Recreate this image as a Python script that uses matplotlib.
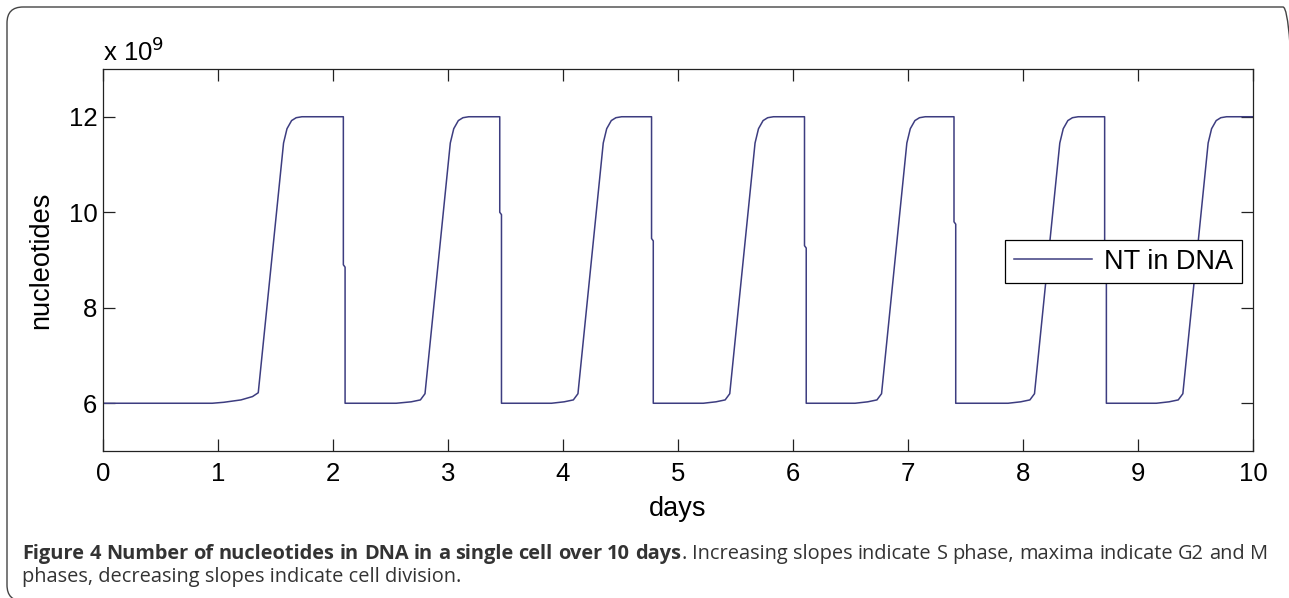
import matplotlib
matplotlib.use('Agg')
import matplotlib.pyplot as plt
from matplotlib.patches import FancyBboxPatch
from matplotlib.transforms import IdentityTransform

# nucleotides in DNA (units of 1e9)
days = [0.0, 0.95, 1.05, 1.20, 1.30, 1.35,
        1.57, 1.60, 1.64, 1.68, 1.73, 2.09, 2.09, 2.105, 2.105,
        2.55, 2.68, 2.76, 2.80,
        3.02, 3.05, 3.09, 3.13, 3.18, 3.45, 3.45, 3.465, 3.465,
        3.90, 4.01, 4.09, 4.13,
        4.35, 4.38, 4.42, 4.46, 4.51, 4.77, 4.77, 4.785, 4.785,
        5.22, 5.33, 5.41, 5.45,
        5.67, 5.70, 5.74, 5.78, 5.83, 6.10, 6.10, 6.115, 6.115,
        6.54, 6.65, 6.73, 6.77,
        6.99, 7.02, 7.06, 7.10, 7.15, 7.40, 7.40, 7.415, 7.415,
        7.87, 7.98, 8.06, 8.10,
        8.32, 8.35, 8.39, 8.43, 8.48, 8.71, 8.71, 8.725, 8.725,
        9.16, 9.27, 9.35, 9.39,
        9.61, 9.64, 9.68, 9.72, 9.77, 10.0]
nt_billions = [6.0, 6.0, 6.02, 6.07, 6.14, 6.22,
               11.45, 11.75, 11.92, 11.98, 12.0, 12.0, 8.9, 8.85, 6.0,
               6.0, 6.03, 6.07, 6.2,
               11.45, 11.75, 11.92, 11.98, 12.0, 12.0, 10.0, 9.95, 6.0,
               6.0, 6.03, 6.07, 6.2,
               11.45, 11.75, 11.92, 11.98, 12.0, 12.0, 9.45, 9.4, 6.0,
               6.0, 6.03, 6.07, 6.2,
               11.45, 11.75, 11.92, 11.98, 12.0, 12.0, 9.3, 9.25, 6.0,
               6.0, 6.03, 6.07, 6.2,
               11.45, 11.75, 11.92, 11.98, 12.0, 12.0, 9.8, 9.75, 6.0,
               6.0, 6.03, 6.07, 6.2,
               11.45, 11.75, 11.92, 11.98, 12.0, 12.0, 9.4, 9.35, 6.0,
               6.0, 6.03, 6.07, 6.2,
               11.45, 11.75, 11.92, 11.98, 12.0, 12.0]

x_ticks = [0, 1, 2, 3, 4, 5, 6, 7, 8, 9, 10]
y_ticks = [6, 8, 10, 12]

caption_bold = "Figure 4 Number of nucleotides in DNA in a single cell over 10 days"
caption_rest = ". Increasing slopes indicate S phase, maxima indicate G2 and M"
caption_line2 = "phases, decreasing slopes indicate cell division."

W, H = 1289, 598
fig = plt.figure(figsize=(W / 100, H / 100), dpi=100)
plt.rcParams['font.family'] = ['Liberation Sans', 'DejaVu Sans']

ax = fig.add_axes([103 / W, 1 - 451 / H, 1150 / W, 382 / H])
ax.plot(days, nt_billions, color='#3d3d80', lw=1.1, label='NT in DNA')
ax.set_xlim(0, 10)
ax.set_ylim(5, 13)
ax.set_xticks(x_ticks)
ax.set_yticks(y_ticks)
ax.tick_params(direction='in', length=8.5, width=0.9, top=True, right=True,
               labelsize=18.5, color='#222222')
ax.tick_params(axis='x', pad=8)
ax.tick_params(axis='y', pad=4)
for s in ax.spines.values():
    s.set_linewidth(0.9)
    s.set_color('#222222')

ax.set_xlabel('days', fontsize=19.5)
ax.xaxis.set_label_coords(0.5, -0.118)
ax.set_ylabel('nucleotides', fontsize=19.5)
ax.yaxis.label.set_va('center')
ax.yaxis.set_label_coords(-0.054, 0.5)

fig.text(103 / W, 1 - 61 / H, 'x 10$^{9}$', fontsize=18.5, ha='left', va='baseline')

leg = ax.legend(loc='center right', bbox_to_anchor=(0.99, 0.496), fontsize=19.5,
                fancybox=False, framealpha=1, edgecolor='black',
                handlelength=2.9, handletextpad=0.45, borderpad=0.3,
                borderaxespad=0)
leg.get_frame().set_linewidth(0.9)

# caption, first line justified from x=22 to x=1268
fig.canvas.draw()
r = fig.canvas.get_renderer()
probe = fig.text(0, 0, caption_bold, fontsize=12, family='Open Sans', fontweight='bold')
cap_size = 12 * 661 / probe.get_window_extent(r).width
probe.remove()
cap_kw = dict(fontsize=cap_size, family='Open Sans', color='#333333')
words = [(w, 'bold') for w in caption_bold.split(' ')]
rest = caption_rest.split(' ')
items = []
for w, wt in words:
    items.append([fig.text(0, 0, w, fontweight=wt, **cap_kw)])
items[-1].append(fig.text(0, 0, rest[0], fontweight='normal', **cap_kw))
for w in rest[1:]:
    items.append([fig.text(0, 0, w, fontweight='normal', **cap_kw)])
widths = []
for grp in items:
    widths.append([t.get_window_extent(r).width for t in grp])
total = sum(sum(g) for g in widths)
gap = (1268 - 22 - total) / (len(items) - 1)
x = 22
y1 = H - 559
for grp, ws in zip(items, widths):
    for t, w in zip(grp, ws):
        t.set_transform(IdentityTransform())
        t.set_position((x, y1))
        x += w
    x += gap
fig.text(22 / W, (H - 582) / H, caption_line2, fontweight='normal', **cap_kw)

border = FancyBboxPatch((7, -3), 1292, 594, boxstyle='round,pad=0,rounding_size=16',
                        transform=IdentityTransform(), fill=False,
                        edgecolor='#444444', lw=1.0)
fig.patches.append(border)

fig.savefig('out.png', dpi=100)
